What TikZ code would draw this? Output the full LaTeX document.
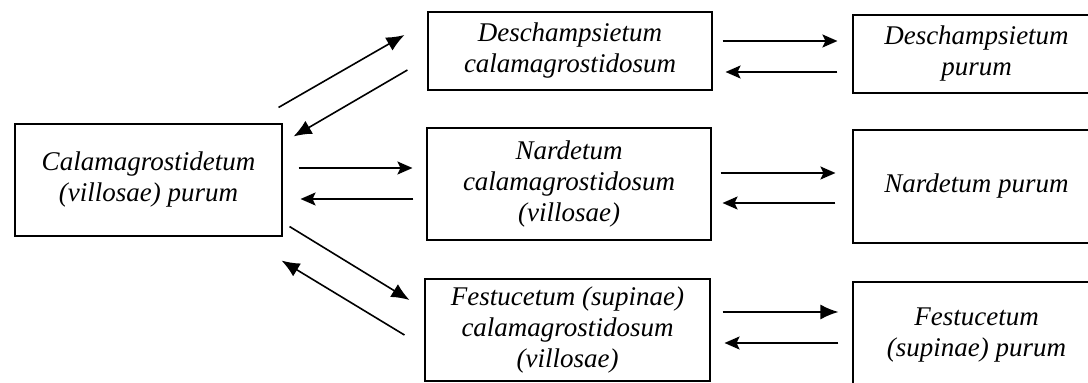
\documentclass[tikz,border=0pt]{standalone}
\usepackage{fontspec}
\setmainfont{Liberation Serif}
\usetikzlibrary{arrows.meta}
\begin{document}
\begin{tikzpicture}[
x=1pt,y=1pt,
every node/.style={draw,line width=1.1pt,align=center,inner sep=0pt,
  font=\fontsize{27}{31}\selectfont\itshape},
flow/.style={line width=1.6pt,-{Latex[length=18pt,width=15pt]}},
turn/.style={line width=1.6pt,-{Stealth[length=15pt,width=13pt,inset=3pt]}}
]
\useasboundingbox (0,0) rectangle (1088,383);
% communities
\node[minimum width=267pt,minimum height=112pt] (calam) at (148.5,203)
  {Calamagrostidetum\\(villosae) purum};
\node[minimum width=284pt,minimum height=78pt] (deschcal) at (570,332)
  {Deschampsietum\\calamagrostidosum};
\node[minimum width=284pt,minimum height=112pt] (nardcal) at (569,199)
  {Nardetum\\calamagrostidosum\\(villosae)};
\node[minimum width=285pt,minimum height=102pt] (festcal) at (567.5,53)
  {Festucetum (supinae)\\calamagrostidosum\\(villosae)};
\node[minimum width=247pt,minimum height=78pt] (deschpur) at (976.5,329)
  {Deschampsietum\\purum};
\node[minimum width=247pt,minimum height=113pt] (nardpur) at (976.5,196.5)
  {Nardetum purum};
\node[minimum width=247pt,minimum height=106pt] (festpur) at (976.5,48)
  {Festucetum\\(supinae) purum};
% first step
\draw[flow] ([xshift=-4pt,yshift=16pt]calam.north east) -- ([xshift=-23pt,yshift=16pt]deschcal.west);
\draw[flow] ([xshift=-20pt,yshift=-19pt]deschcal.west) -- ([xshift=11pt,yshift=-13pt]calam.north east);
\draw[turn] ([xshift=16pt,yshift=12pt]calam.east) -- ([xshift=-14pt,yshift=16pt]nardcal.west);
\draw[turn] ([xshift=-13pt,yshift=-15pt]nardcal.west) -- ([xshift=18pt,yshift=-19pt]calam.east);
\draw[flow] ([xshift=7pt,yshift=10pt]calam.south east) -- ([xshift=-15pt,yshift=30pt]festcal.west);
\draw[flow] ([xshift=-20pt,yshift=-5pt]festcal.west) -- ([xshift=-1pt,yshift=-24pt]calam.south east);
% second step
\draw[turn] ([xshift=10pt,yshift=10pt]deschcal.east) -- ([xshift=-15pt,yshift=13pt]deschpur.west);
\draw[turn] ([xshift=-15pt,yshift=-18pt]deschpur.west) -- ([xshift=13pt,yshift=-21pt]deschcal.east);
\draw[turn] ([xshift=9pt,yshift=11pt]nardcal.east) -- ([xshift=-17pt,yshift=13.5pt]nardpur.west);
\draw[turn] ([xshift=-17pt,yshift=-16.5pt]nardpur.west) -- ([xshift=11pt,yshift=-19pt]nardcal.east);
\draw[flow] ([xshift=12pt,yshift=18pt]festcal.east) -- ([xshift=-14pt,yshift=23pt]festpur.west);
\draw[turn] ([xshift=-14pt,yshift=-8pt]festpur.west) -- ([xshift=14pt,yshift=-13pt]festcal.east);
\end{tikzpicture}
\end{document}
